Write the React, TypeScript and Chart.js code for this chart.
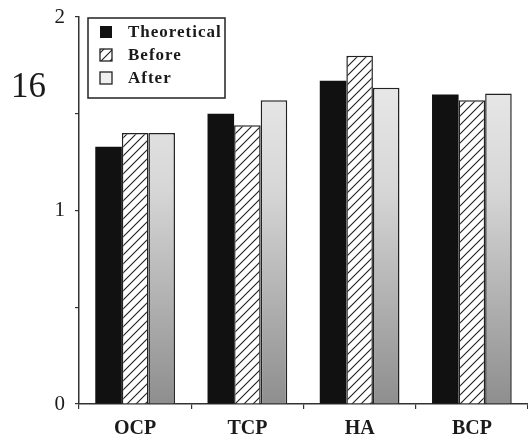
import React, { useEffect, useRef } from "react";
import { Chart, registerables } from "chart.js";
Chart.register(...registerables);

const categories = ["OCP", "TCP", "HA", "BCP"];
const theoretical = [1.33, 1.5, 1.67, 1.6];
const before = [1.4, 1.44, 1.8, 1.57];
const after = [1.4, 1.57, 1.635, 1.605];
const seriesLabels = ["Theoretical", "Before", "After"];
const figureNumber = "16";

const SERIF = "'Liberation Serif', 'Times New Roman', serif";

function makeHatch(): CanvasPattern | string {
  const s = 9;
  const c = document.createElement("canvas");
  c.width = s;
  c.height = s;
  const ctx = c.getContext("2d");
  if (!ctx) return "#fff";
  ctx.fillStyle = "#ffffff";
  ctx.fillRect(0, 0, s, s);
  ctx.strokeStyle = "#1e1e1e";
  ctx.lineWidth = 1.1;
  ctx.beginPath();
  ctx.moveTo(0, s);
  ctx.lineTo(s, 0);
  ctx.moveTo(-2, 2);
  ctx.lineTo(2, -2);
  ctx.moveTo(s - 2, s + 2);
  ctx.lineTo(s + 2, s - 2);
  ctx.stroke();
  return ctx.createPattern(c, "repeat") || "#fff";
}

function afterFill(context: any) {
  const chart = context.chart;
  const area = chart.chartArea;
  if (!area) return "#cccccc";
  const g = chart.ctx.createLinearGradient(0, area.top, 0, area.bottom);
  g.addColorStop(0, "#f3f3f3");
  g.addColorStop(0.45, "#d6d6d6");
  g.addColorStop(1, "#8e8e8e");
  return g;
}

export default function App() {
  const ref = useRef<HTMLCanvasElement | null>(null);

  useEffect(() => {
    if (!ref.current) return;
    const hatch = makeHatch();

    const overlay = {
      id: "overlay",
      afterDraw(chart: any) {
        const ctx = chart.ctx as CanvasRenderingContext2D;
        ctx.save();
        ctx.fillStyle = "#1a1a1a";
        ctx.font = `35px ${SERIF}`;
        ctx.textBaseline = "alphabetic";
        ctx.textAlign = "left";
        ctx.fillText(figureNumber, 11, 97);
        const lx = 88, ly = 18, lw = 137, lh = 80;
        ctx.fillStyle = "#ffffff";
        ctx.fillRect(lx, ly, lw, lh);
        ctx.strokeStyle = "#222";
        ctx.lineWidth = 1.5;
        ctx.strokeRect(lx, ly, lw, lh);
        const rowY = [32, 55, 78];
        ctx.font = `bold 17px ${SERIF}`;
        ctx.textBaseline = "middle";
        seriesLabels.forEach((lab, i) => {
          const bx = 100, by = rowY[i] - 6, bs = 12;
          if (i === 0) {
            ctx.fillStyle = "#111";
            ctx.fillRect(bx, by, bs, bs);
          } else {
            ctx.fillStyle = i === 1 ? (hatch as any) : "#f0f0f0";
            ctx.fillRect(bx, by, bs, bs);
            ctx.strokeStyle = "#222";
            ctx.lineWidth = 1.3;
            ctx.strokeRect(bx, by, bs, bs);
          }
          ctx.fillStyle = "#1a1a1a";
          (ctx as any).letterSpacing = "1px";
          ctx.fillText(lab, 128, rowY[i] + 1);
        });
        ctx.restore();
      },
    };

    const chart = new Chart(ref.current, {
      type: "bar",
      data: {
        labels: categories,
        datasets: [
          {
            label: seriesLabels[0],
            data: theoretical,
            backgroundColor: "#111111",
            borderColor: "#111111",
            borderWidth: 0,
          },
          {
            label: seriesLabels[1],
            data: before,
            backgroundColor: hatch as any,
            borderColor: "#222222",
            borderWidth: 1.5,
          },
          {
            label: seriesLabels[2],
            data: after,
            backgroundColor: afterFill as any,
            borderColor: "#222222",
            borderWidth: 1.5,
          },
        ],
      },
      options: {
        responsive: false,
        animation: false,
        layout: { padding: { top: 17, left: 0, right: 0, bottom: 0 } },
        datasets: {
          bar: { categoryPercentage: 0.71, barPercentage: 1.0 },
        },
        plugins: {
          legend: { display: false },
          tooltip: { enabled: false },
        },
        scales: {
          x: {
            offset: true,
            grid: {
              offset: true,
              drawOnChartArea: false,
              tickLength: 5,
              color: "#333",
              lineWidth: 1.2,
            },
            border: { display: true, color: "#333", width: 1.5 },
            ticks: {
              color: "#1a1a1a",
              font: { family: SERIF, size: 20, weight: "bold" },
              padding: 8,
            },
            afterFit(scale: any) {
              scale.height = 34;
              scale.paddingLeft = 0;
              scale.paddingRight = 0;
            },
          },
          y: {
            min: 0,
            max: 2,
            ticks: {
              stepSize: 0.5,
              color: "#1a1a1a",
              font: { family: SERIF, size: 21 },
              padding: 10,
              callback: (v: any) => (Number.isInteger(v) ? String(v) : ""),
            },
            grid: {
              drawOnChartArea: false,
              tickLength: 4,
              color: "#333",
              lineWidth: 1.2,
            },
            border: { display: true, color: "#333", width: 1.5 },
            afterFit(scale: any) {
              scale.width = 79;
              scale.paddingTop = 0;
              scale.paddingBottom = 0;
            },
          },
        },
      },
      plugins: [overlay],
    });
    return () => chart.destroy();
  }, []);

  return (
    <div style={{ position: "absolute", left: 0, top: 0, width: 528, height: 438, background: "#fff" }}>
      <canvas ref={ref} width={528} height={438} style={{ display: "block" }} />
    </div>
  );
}
